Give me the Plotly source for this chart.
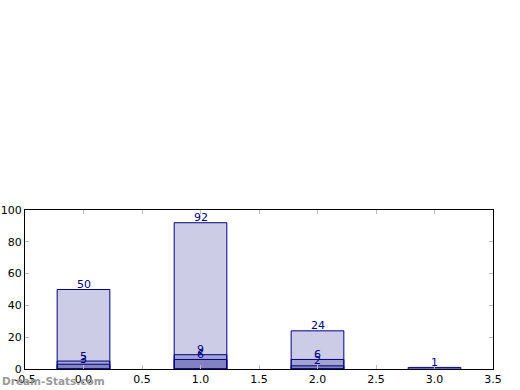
import plotly.graph_objects as go

categories = [0, 1, 2, 3]
series_a = [50, 92, 24, 1]
series_b = [5, 9, 6, None]
series_c = [3, 6, 2, None]
x_ticks = [-0.5, 0.0, 0.5, 1.0, 1.5, 2.0, 2.5, 3.0, 3.5]
y_ticks = [0, 20, 40, 60, 80, 100]

fig = go.Figure()
annotations = []
for s in [series_a, series_b, series_c]:
    fig.add_trace(go.Bar(
        x=categories, y=s, width=0.45,
        marker=dict(color="rgba(0,0,128,0.2)", line=dict(color="navy", width=1)),
        showlegend=False, hoverinfo="skip"))
    for c, v in zip(categories, s):
        if v:
            annotations.append(dict(
                x=c, y=v, xref="x", yref="y", text=str(v), showarrow=False,
                xanchor="center", yanchor="middle", yshift=5,
                font=dict(color="navy", size=11, family="DejaVu Sans")))

annotations.append(dict(text="<b>Dream-Stats.com</b>", xref="paper", yref="paper",
                        x=-25/468, y=-12/159, xanchor="left", yanchor="middle",
                        showarrow=False, font=dict(size=10.5, color="#999999")))

fig.update_layout(
    width=520, height=390, barmode="overlay",
    margin=dict(l=25, r=27, t=210, b=21, autoexpand=False),
    plot_bgcolor="white", paper_bgcolor="white",
    font=dict(family="DejaVu Sans", size=11, color="black"),
    annotations=annotations,
)
axis_common = dict(showline=True, linecolor="black", linewidth=1, mirror="ticks",
                   ticks="inside", ticklen=4, tickcolor="#bbbbbb",
                   showgrid=False, zeroline=False, automargin=False)
fig.update_xaxes(range=[-0.5, 3.5], tickvals=x_ticks,
                 ticktext=[f"{v:.1f}" for v in x_ticks], **axis_common)
fig.update_yaxes(range=[0, 100], tickvals=y_ticks,
                 ticktext=[str(v) for v in y_ticks], **axis_common)

fig.write_html("out.html", config={"displayModeBar": False},
               post_script="document.body.style.margin='0';")
